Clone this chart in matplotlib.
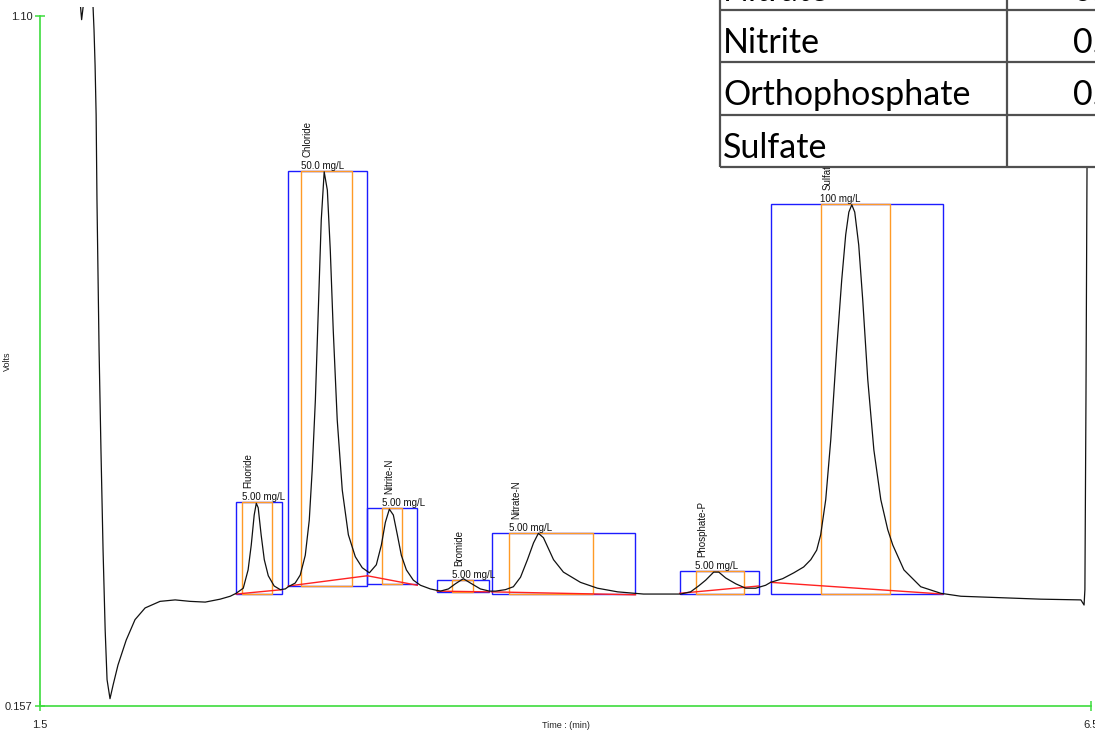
import matplotlib
matplotlib.use('Agg')
import matplotlib.pyplot as plt
from matplotlib.patches import Rectangle

# ---------------- data ----------------
time_min = [
    1.686, 1.693, 1.698, 1.705, 1.710, 1.748,
    1.752, 1.757, 1.762, 1.767, 1.771, 1.781, 1.790, 1.800, 1.810, 1.819, 1.833,
    1.848, 1.871, 1.910, 1.952, 2.000, 2.071, 2.143, 2.214, 2.286, 2.357, 2.405,
    2.433, 2.467, 2.490, 2.505, 2.519, 2.529, 2.538, 2.552, 2.567, 2.586, 2.614, 2.643, 2.667,
    2.681, 2.714, 2.738, 2.762, 2.781, 2.795, 2.810, 2.824, 2.838, 2.852, 2.867, 2.881, 2.895,
    2.914, 2.938, 2.967, 3.000, 3.033, 3.067,
    3.100, 3.124, 3.143, 3.162, 3.181, 3.200, 3.219, 3.243, 3.276, 3.310, 3.357, 3.405,
    3.443, 3.476, 3.514, 3.548, 3.595, 3.638, 3.667,
    3.714, 3.752, 3.786, 3.819, 3.848, 3.871, 3.895, 3.943, 3.990, 4.071, 4.152, 4.248,
    4.371, 4.476, 4.548,
    4.595, 4.633, 4.667, 4.705, 4.729, 4.762, 4.810, 4.857, 4.905, 4.952,
    4.976, 5.033, 5.086, 5.133, 5.167, 5.195, 5.214, 5.238, 5.262, 5.290, 5.314, 5.333, 5.348,
    5.362, 5.376, 5.395, 5.414, 5.438, 5.467, 5.500, 5.533, 5.557, 5.610, 5.690, 5.786, 5.881,
    6.071, 6.262, 6.452, 6.467, 6.471, 6.476, 6.481, 6.486,
]
volts = [
    1.177, 1.112, 1.095, 1.112, 1.177, 1.177,
    1.115, 1.081, 1.033, 0.965, 0.849, 0.644, 0.507, 0.370, 0.261, 0.193, 0.167,
    0.186, 0.213, 0.247, 0.275, 0.291, 0.300, 0.302, 0.300, 0.299, 0.303, 0.307,
    0.311, 0.318, 0.343, 0.377, 0.418, 0.434, 0.428, 0.391, 0.357, 0.335, 0.321, 0.316, 0.317,
    0.320, 0.325, 0.336, 0.363, 0.411, 0.480, 0.575, 0.698, 0.821, 0.887, 0.862, 0.780, 0.671,
    0.548, 0.452, 0.391, 0.361, 0.346, 0.339,
    0.350, 0.377, 0.408, 0.426, 0.418, 0.391, 0.363, 0.343, 0.329, 0.322, 0.317, 0.314,
    0.317, 0.324, 0.331, 0.325, 0.317, 0.314, 0.314,
    0.316, 0.320, 0.333, 0.357, 0.380, 0.393, 0.387, 0.357, 0.340, 0.326, 0.318, 0.313,
    0.310, 0.310, 0.310,
    0.313, 0.321, 0.329, 0.340, 0.340, 0.332, 0.324, 0.318, 0.318, 0.322,
    0.326, 0.331, 0.339, 0.347, 0.357, 0.370, 0.391, 0.439, 0.521, 0.644, 0.739, 0.801, 0.832,
    0.842, 0.832, 0.787, 0.712, 0.603, 0.507, 0.439, 0.398, 0.377, 0.343, 0.320, 0.311, 0.307,
    0.305, 0.303, 0.302, 0.295, 0.316, 0.575, 0.890, 1.259,
]

peak_names = ['Fluoride', 'Chloride', 'Nitrite-N', 'Bromide', 'Nitrate-N', 'Phosphate-P', 'Sulfate']
peak_conc = ['5.00 mg/L', '50.0 mg/L', '5.00 mg/L', '5.00 mg/L', '5.00 mg/L', '5.00 mg/L', '100 mg/L']
win_start = [2.433, 2.681, 3.057, 3.390, 3.648, 4.543, 4.976]
win_end = [2.652, 3.057, 3.295, 3.638, 4.333, 4.919, 5.795]
int_start = [2.462, 2.743, 3.129, 3.462, 3.733, 4.619, 5.214]
int_end = [2.605, 2.986, 3.224, 3.562, 4.133, 4.848, 5.543]
peak_top = [0.436, 0.888, 0.428, 0.329, 0.393, 0.342, 0.843]
box_bottom = [0.310, 0.321, 0.324, 0.313, 0.310, 0.310, 0.310]
base_start = [0.310, 0.321, 0.335, 0.314, 0.313, 0.311, 0.326]
base_end = [0.316, 0.335, 0.322, 0.313, 0.309, 0.321, 0.310]

x_ticks = [1.5, 6.5]
x_tick_labels = ['1.5', '6.5']
y_ticks = [0.157, 1.10]
y_tick_labels = ['0.157', '1.10']

table_rows = ['Nitrate', 'Nitrite', 'Orthophosphate', 'Sulfate']
table_vals = ['0.10', '0.05', '0.05', '10']

# ---------------- figure ----------------
W, H = 1095, 731
fig = plt.figure(figsize=(W / 100, H / 100), dpi=100)
fig.patch.set_facecolor('white')

ax = fig.add_axes([40 / W, 25 / H, 1051 / W, 690 / H])
ax.set_xlim(1.5, 6.5)
ax.set_ylim(0.157, 1.10)

GREEN = '#3ddc3d'
BLUE = '#1c1cff'
ORANGE = '#ff9a26'
RED = '#ff2222'
SMALL = 'Liberation Sans'

for s in ['top', 'right']:
    ax.spines[s].set_visible(False)
for s in ['left', 'bottom']:
    ax.spines[s].set_color(GREEN)
    ax.spines[s].set_linewidth(1.2)

ax.set_xticks(x_ticks)
ax.set_xticklabels(x_tick_labels)
ax.set_yticks(y_ticks)
ax.set_yticklabels(y_tick_labels)
ax.tick_params(axis='both', direction='inout', length=7, width=1.1, color=GREEN,
               labelsize=8, labelcolor='#222222')
ax.tick_params(axis='x', pad=6.5)
ax.tick_params(axis='y', pad=2)
for lbl in ax.get_xticklabels() + ax.get_yticklabels():
    lbl.set_family(SMALL)
ax.xaxis.get_major_ticks()[0].tick1line.set_color(RED)

ax.set_xlabel('Time : (min)', fontsize=6.5, family=SMALL, color='#222222')
ax.xaxis.set_label_coords(0.5, -0.0215)
ax.set_ylabel('Volts', fontsize=6.5, family=SMALL, color='#222222')
ax.yaxis.set_label_coords(-0.027, 0.5)

# integration windows
for i in range(len(peak_names)):
    ax.add_patch(Rectangle((win_start[i], box_bottom[i]), win_end[i] - win_start[i],
                           peak_top[i] - box_bottom[i], fill=False, ec=BLUE, lw=1.0, zorder=2))
    ax.add_patch(Rectangle((int_start[i], box_bottom[i]), int_end[i] - int_start[i],
                           peak_top[i] - box_bottom[i], fill=False, ec=ORANGE, lw=1.0, zorder=2.1))
    ax.plot([win_start[i], win_end[i]], [base_start[i], base_end[i]], color=RED, lw=1.0, zorder=2.2)
    ax.annotate(peak_names[i], xy=(int_start[i], peak_top[i]), xytext=(6.5, 14),
                textcoords='offset pixels', rotation=90, ha='center', va='bottom',
                fontsize=7, family=SMALL, color='#111111')
    ax.annotate(peak_conc[i], xy=(int_start[i], peak_top[i]), xytext=(-0.5, 0),
                textcoords='offset pixels', ha='left', va='bottom',
                fontsize=7, family=SMALL, color='#111111')

trace, = ax.plot(time_min, volts, color='#111111', lw=0.9, zorder=3)
trace.set_clip_path(Rectangle((0, -0.05), 1, 1.063, transform=ax.transAxes))

# ---------------- table overlay ----------------
tx0, tx1 = 715, 1300
ty0, ty1 = -45, 170
tax = fig.add_axes([tx0 / W, (H - ty1) / H, (tx1 - tx0) / W, (ty1 - ty0) / H])
tax.set_xlim(tx0, tx1)
tax.set_ylim(ty1, ty0)
tax.axis('off')
row_edges = [-42, 10, 62, 115, 167]
tax.add_patch(Rectangle((720, row_edges[0]), tx1 - 720, row_edges[-1] - row_edges[0],
                        fc='white', ec='none', zorder=1))
LINE = '#505050'
for y in row_edges:
    tax.plot([720, tx1], [y, y], color=LINE, lw=1.6, zorder=2, solid_capstyle='butt')
for x in [720, 1007]:
    tax.plot([x, x], [row_edges[0], row_edges[-1]], color=LINE, lw=1.6, zorder=2,
             solid_capstyle='butt')
for i, (name, val) in enumerate(zip(table_rows, table_vals)):
    base = row_edges[i] + 43
    tax.text(723, base, name, fontsize=24.5, family='Lato', va='baseline', ha='left',
             color='black', zorder=3)
    tax.text(1140, base, val, fontsize=24.5, family='Lato', va='baseline', ha='right',
             color='black', zorder=3)

fig.savefig('out.png', dpi=100)
